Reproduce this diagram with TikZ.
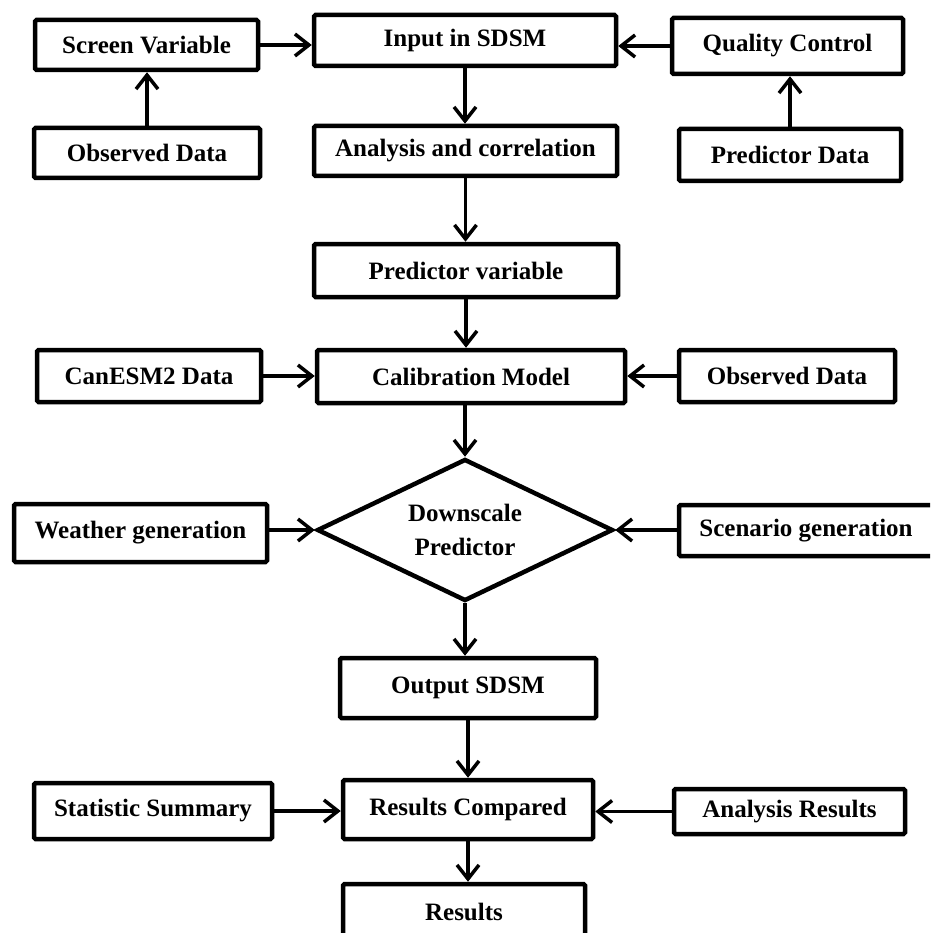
\documentclass[tikz,border=0pt]{standalone}
\usepackage{fontspec}
\setmainfont{Liberation Serif}
\usetikzlibrary{arrows.meta,shapes.geometric}
\begin{document}
\begin{tikzpicture}[x=1pt,y=-1pt,
  box/.style={draw, line width=4.5pt, rounded corners=1.5pt, inner sep=0pt,
    font=\fontsize{25}{34}\selectfont\bfseries, align=center},
  decision/.style={draw, diamond, line width=4.5pt, inner sep=0pt, shape aspect=2,
    font=\fontsize{25}{34}\selectfont\bfseries, align=center},
  conn/.style={line width=3.5pt, -{Straight Barb[length=14pt,width=22pt]}},
]
\useasboundingbox (0,0) rectangle (930,933);
\fill[white] (0,0) rectangle (930,933);
\clip (0,0) rectangle (930,933);

% row 1
\node[box, minimum width=223pt, minimum height=50pt] (scr) at (146.5,45) {Screen Variable};
\node[box, minimum width=302pt, minimum height=51pt] (inp) at (465,40.5) {Input in SDSM};
\node[box, minimum width=231pt, minimum height=56pt] (qc) at (787.5,46) {Quality Control};
% row 2
\node[box, minimum width=226pt, minimum height=50pt] (obsL) at (147,153) {Observed Data};
\node[box, minimum width=303pt, minimum height=50pt] (ana) at (465.5,151) {Analysis and correlation};
\node[box, minimum width=222pt, minimum height=52pt] (pd) at (790,155) {Predictor Data};
% row 3
\node[box, minimum width=304pt, minimum height=53pt] (pv) at (466,270.5) {Predictor variable};
% row 4
\node[box, minimum width=224pt, minimum height=52pt] (can) at (149,376) {CanESM2 Data};
\node[box, minimum width=308pt, minimum height=53pt] (cal) at (471,376.5) {Calibration Model};
\node[box, minimum width=216pt, minimum height=52pt] (obsR) at (787,376) {Observed Data};
% row 5
\node[box, minimum width=253pt, minimum height=58pt] (wg) at (140.5,533) {Weather generation};
\node[decision, minimum width=296pt, minimum height=142pt] (dia) at (465,530) {Downscale\\Predictor};
\node[box, minimum width=254pt, minimum height=51pt] (sg) at (806,530.5) {Scenario generation};
% row 6
\node[box, minimum width=256pt, minimum height=60pt] (out) at (468,688) {Output SDSM};
% row 7
\node[box, minimum width=238pt, minimum height=56pt] (ss) at (153,811) {Statistic Summary};
\node[box, minimum width=250pt, minimum height=59pt] (rc) at (468,809.5) {Results Compared};
\node[box, minimum width=231pt, minimum height=45pt] (ar) at (789.5,811.5) {Analysis Results};
% row 8
\node[box, minimum width=242pt, minimum height=56pt] (res) at (464,912) {Results};

% connectors
\draw[conn] (obsL.north) -- (obsL.north |- scr.south);
\draw[conn] (scr.east) -- (inp.west |- scr.east);
\draw[conn] (qc.west) -- (inp.east |- qc.west);
\draw[conn] (pd.north) -- (pd.north |- qc.south);
\draw[conn] (inp.south) -- (inp.south |- ana.north);
\draw[conn] (ana.south) -- (ana.south |- pv.north);
\draw[conn] (pv.south) -- (pv.south |- cal.north);
\draw[conn] (can.east) -- (cal.west |- can.east);
\draw[conn] (obsR.west) -- (cal.east |- obsR.west);
\draw[conn] (dia.north |- cal.south) -- (dia.north);
\draw[conn] (wg.east |- dia.west) -- (dia.west);
\draw[conn] (sg.west |- dia.east) -- (dia.east);
\draw[conn] (dia.south) -- (dia.south |- out.north);
\draw[conn] (out.south) -- (out.south |- rc.north);
\draw[conn] (ss.east) -- (rc.west |- ss.east);
\draw[conn] (ar.west) -- (rc.east |- ar.west);
\draw[conn] (rc.south) -- (rc.south |- res.north);
\end{tikzpicture}
\end{document}
